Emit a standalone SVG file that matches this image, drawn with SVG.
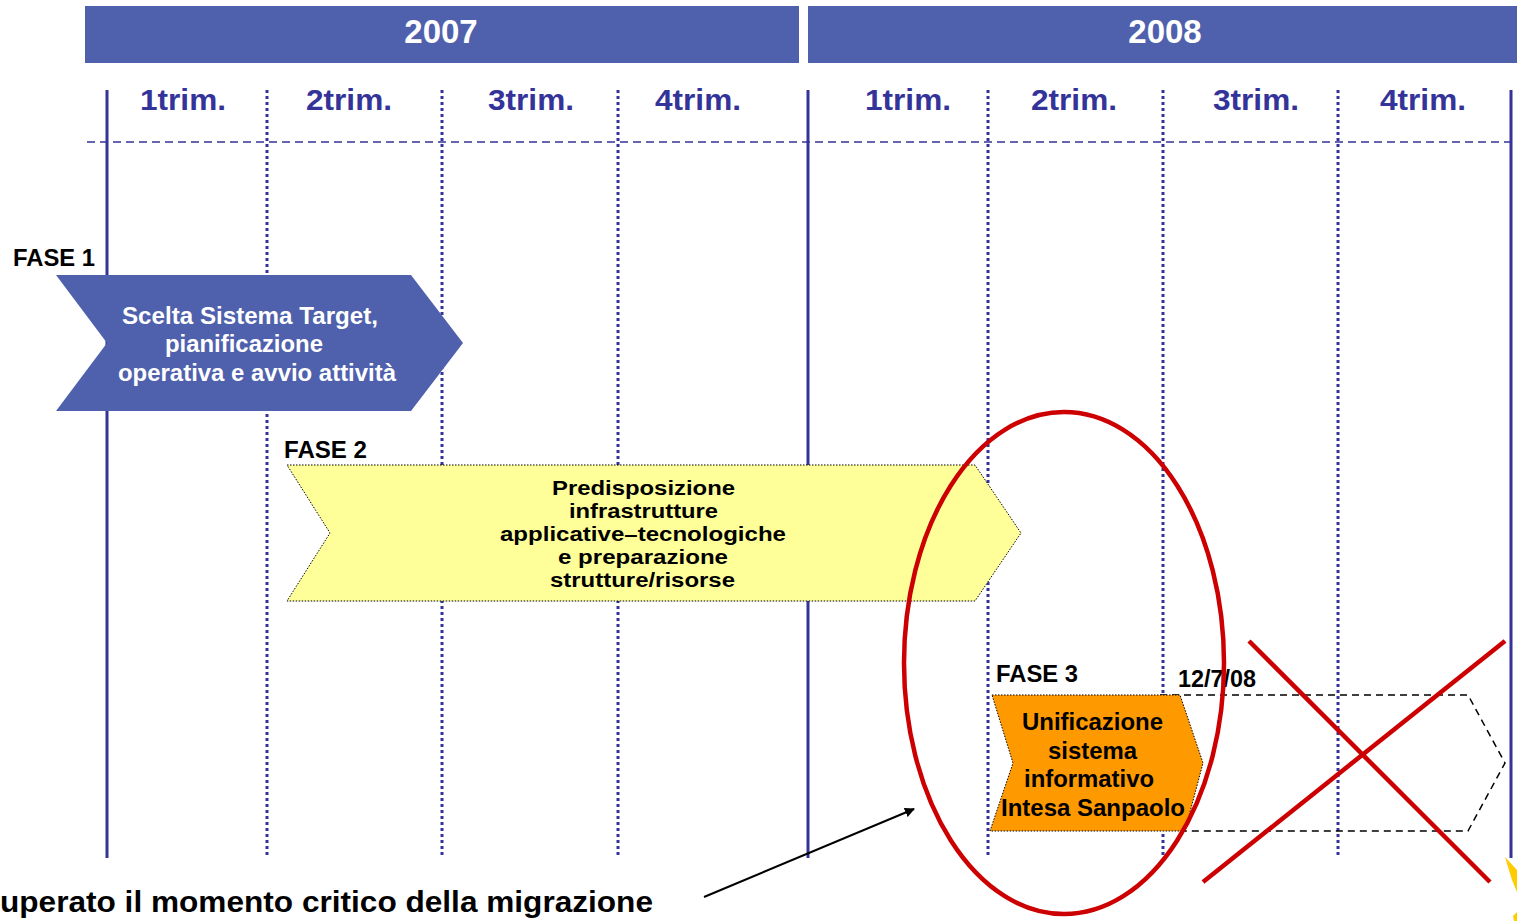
<svg xmlns="http://www.w3.org/2000/svg" width="1517" height="921" viewBox="0 0 1517 921">
  <style>
    text { font-family: "Liberation Sans", Arial, sans-serif; font-weight: bold; }
    .year { fill: #ffffff; font-size: 33px; text-anchor: middle; }
    .qtr { fill: #333399; font-size: 30px; text-anchor: middle; }
    .axis { stroke: #333399; stroke-width: 3; fill: none; }
    .tick { stroke: #333399; stroke-width: 3; stroke-dasharray: 3 3; fill: none; }
    .grid { stroke: #333399; stroke-width: 1.5; stroke-dasharray: 8 5; fill: none; }
    .lbl { fill: #000000; font-size: 23px; }
    .p1 { fill: #ffffff; font-size: 23px; }
    .p2 { fill: #000000; font-size: 20px; }
    .p3 { fill: #000000; font-size: 24px; }
    .red { stroke: #cc0000; stroke-width: 4.5; fill: none; }
  </style>
  <defs>
    <marker id="arrowhead" markerWidth="10" markerHeight="10" refX="9" refY="5" orient="auto" markerUnits="userSpaceOnUse">
      <path d="M0,0 L10,5 L0,10 Z" fill="#000000"/>
    </marker>
  </defs>

  <!-- year headers -->
  <g id="year-2007">
    <rect x="85" y="6" width="714" height="57" fill="#4f61ad"/>
    <text class="year" x="441" y="43">2007</text>
  </g>
  <g id="year-2008">
    <rect x="808" y="6" width="709" height="57" fill="#4f61ad"/>
    <text class="year" x="1165" y="43">2008</text>
  </g>

  <!-- quarter labels -->
  <g id="quarters">
    <text class="qtr" x="183" y="110" textLength="86" lengthAdjust="spacingAndGlyphs">1trim.</text>
    <text class="qtr" x="349" y="110" textLength="86" lengthAdjust="spacingAndGlyphs">2trim.</text>
    <text class="qtr" x="531" y="110" textLength="86" lengthAdjust="spacingAndGlyphs">3trim.</text>
    <text class="qtr" x="698" y="110" textLength="86" lengthAdjust="spacingAndGlyphs">4trim.</text>
    <text class="qtr" x="908" y="110" textLength="86" lengthAdjust="spacingAndGlyphs">1trim.</text>
    <text class="qtr" x="1074" y="110" textLength="86" lengthAdjust="spacingAndGlyphs">2trim.</text>
    <text class="qtr" x="1256" y="110" textLength="86" lengthAdjust="spacingAndGlyphs">3trim.</text>
    <text class="qtr" x="1423" y="110" textLength="86" lengthAdjust="spacingAndGlyphs">4trim.</text>
  </g>

  <!-- timeline grid -->
  <g id="grid">
    <line class="grid" x1="87" y1="142" x2="1517" y2="142"/>
    <line class="axis" x1="107" y1="90" x2="107" y2="858"/>
    <line class="axis" x1="808" y1="90" x2="808" y2="858"/>
    <line class="axis" x1="1511" y1="90" x2="1511" y2="858"/>
    <line class="tick" x1="267" y1="90" x2="267" y2="858"/>
    <line class="tick" x1="442" y1="90" x2="442" y2="858"/>
    <line class="tick" x1="618" y1="90" x2="618" y2="858"/>
    <line class="tick" x1="988" y1="90" x2="988" y2="858"/>
    <line class="tick" x1="1163" y1="90" x2="1163" y2="858"/>
    <line class="tick" x1="1338" y1="90" x2="1338" y2="858"/>
  </g>

  <!-- phase 1 -->
  <g id="fase1">
    <text class="lbl" x="13" y="266" textLength="82" lengthAdjust="spacingAndGlyphs">FASE 1</text>
    <polygon points="56,275 411,275 463,343 411,411 56,411 107,343" fill="#4f61ad"/>
    <text class="p1" x="122" y="324" textLength="256" lengthAdjust="spacingAndGlyphs">Scelta Sistema Target,</text>
    <text class="p1" x="165" y="352" textLength="158" lengthAdjust="spacingAndGlyphs">pianificazione</text>
    <text class="p1" x="118" y="381" textLength="278" lengthAdjust="spacingAndGlyphs">operativa e avvio attività</text>
  </g>

  <!-- phase 2 -->
  <g id="fase2">
    <text class="lbl" x="284" y="458" textLength="83" lengthAdjust="spacingAndGlyphs">FASE 2</text>
    <polygon points="287,465 975,465 1021,533 975,601 287,601 330,533" fill="#ffff99" stroke="#000000" stroke-width="1" stroke-dasharray="1.5 1.5"/>
    <text class="p2" x="552" y="495" textLength="183" lengthAdjust="spacingAndGlyphs">Predisposizione</text>
    <text class="p2" x="569" y="518" textLength="149" lengthAdjust="spacingAndGlyphs">infrastrutture</text>
    <text class="p2" x="500" y="541" textLength="286" lengthAdjust="spacingAndGlyphs">applicative–tecnologiche</text>
    <text class="p2" x="558" y="564" textLength="170" lengthAdjust="spacingAndGlyphs">e preparazione</text>
    <text class="p2" x="550" y="587" textLength="185" lengthAdjust="spacingAndGlyphs">strutture/risorse</text>
  </g>

  <!-- phase 3 and its cancelled extension -->
  <g id="fase3">
    <text class="lbl" x="996" y="682" textLength="82" lengthAdjust="spacingAndGlyphs">FASE 3</text>
    <polygon points="1160,695 1468,695 1505,763 1468,831 1185,831" fill="none" stroke="#000000" stroke-width="1.5" stroke-dasharray="7 5"/>
    <polygon points="992,695 1180,695 1203,763 1185,831 990,831 1013,763" fill="#ff9900" stroke="#000000" stroke-width="1" stroke-dasharray="1.5 1.5"/>
    <text class="p3" x="1022" y="730" textLength="141" lengthAdjust="spacingAndGlyphs">Unificazione</text>
    <text class="p3" x="1048" y="759" textLength="89" lengthAdjust="spacingAndGlyphs">sistema</text>
    <text class="p3" x="1024" y="787" textLength="130" lengthAdjust="spacingAndGlyphs">informativo</text>
    <text class="p3" x="1001" y="816" textLength="184" lengthAdjust="spacingAndGlyphs">Intesa Sanpaolo</text>
    <text class="lbl" x="1178" y="687" textLength="78" lengthAdjust="spacingAndGlyphs">12/7/08</text>
  </g>

  <!-- highlight, cancel cross and callout -->
  <g id="connectors">
    <ellipse class="red" cx="1064" cy="663" rx="160" ry="251"/>
    <line class="red" x1="1249" y1="641" x2="1490" y2="882"/>
    <line class="red" x1="1505" y1="641" x2="1203" y2="882"/>
    <line x1="704" y1="897" x2="914" y2="809" stroke="#000000" stroke-width="2" marker-end="url(#arrowhead)"/>
  </g>

  <g id="note">
    <text x="0" y="912" font-size="30" fill="#000000" textLength="653" lengthAdjust="spacingAndGlyphs">uperato il momento critico della migrazione</text>
  </g>

  <!-- partial starburst at the corner -->
  <g id="burst">
    <polygon points="1505,857 1517,870 1517,892 1512,880" fill="#ffcc00"/>
    <polygon points="1513,916 1517,912 1517,921 1514,921" fill="#ffcc00"/>
  </g>
</svg>
